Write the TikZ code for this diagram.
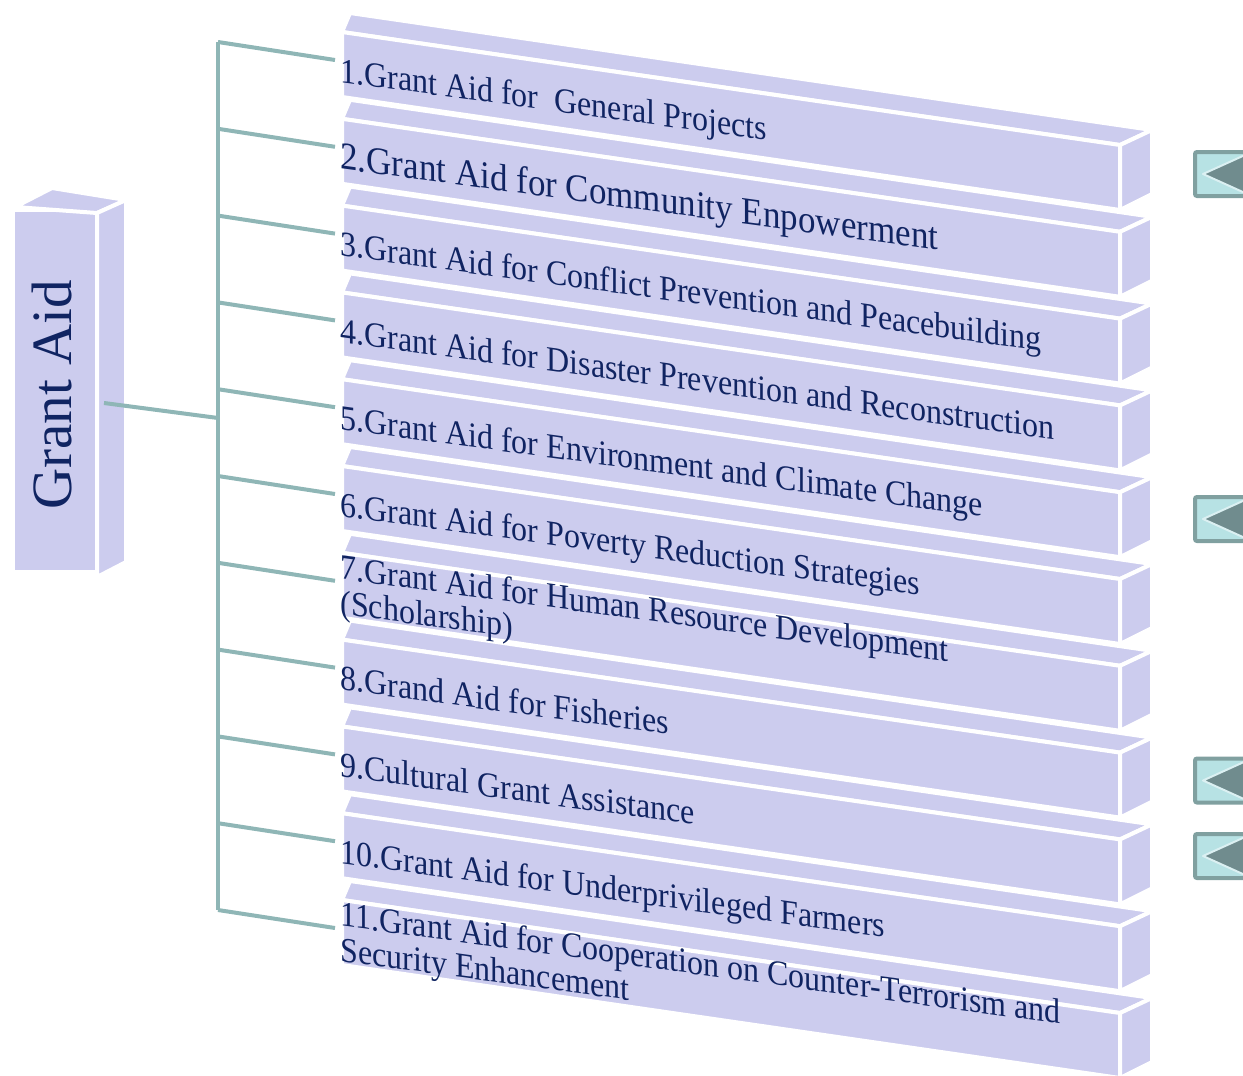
\documentclass[tikz,border=0pt]{standalone}
\usepackage{fontspec}
\setmainfont{Liberation Serif}
\usepackage{xcolor}
\definecolor{barfill} {RGB}{204,204,238}
\definecolor{inkblue} {RGB}{ 16, 36, 98}
\definecolor{linkteal}{RGB}{143,182,182}
\definecolor{btnfill} {RGB}{183,226,228}
\definecolor{btnedge} {RGB}{128,160,160}
\definecolor{btnmark} {RGB}{112,140,142}

\begin{document}
\begin{tikzpicture}[
    x=0.5pt, y=-0.5pt,
    face/.style={fill=barfill, draw=white, line width=2pt, line join=round},
    item/.style={anchor=base west, inner sep=0pt, align=left, yslant=-0.136, yscale=1.1, text=inkblue},
    link/.style={draw=linkteal, line width=2pt},
    button/.style={draw=btnedge, fill=btnfill, line width=2pt, rounded corners=1pt, inner sep=0pt},
    tipmark/.style={fill=btnmark, draw=btnfill!50!white, line width=1pt, line join=round}
]
    \useasboundingbox (0,0) rectangle (1243,1076);

    \foreach \i in {1,...,11}{
        \pgfmathsetmacro\ty{32+(\i-1)*86.8}
        \path[face] (342,\ty) -- (1120,\ty+113) -- (1152,\ty+98) -- (350,\ty-19) -- cycle;
        \path[face] (342,\ty) -- (1120,\ty+113) -- (1120,\ty+178) -- (342,\ty+65) -- cycle;
        \path[face] (1120,\ty+113) -- (1152,\ty+98) -- (1152,\ty+162) -- (1120,\ty+178) -- cycle;
    }

    \foreach \i/\fs/\by/\txt in {
        1/16/82/{1.Grant Aid for~ General Projects},
        2/17.5/168.8/{2.Grant Aid for Community Enpowerment},
        3/16/255.6/{3.Grant Aid for Conflict Prevention and Peacebuilding},
        4/16/342.4/{4.Grant Aid for Disaster Prevention and Reconstruction},
        5/16/429.2/{5.Grant Aid for Environment and Climate Change},
        6/16/516/{6.Grant Aid for Poverty Reduction Strategies},
        7/16/614/{7.Grant Aid for Human Resource Development\\(Scholarship)},
        8/16/689.6/{8.Grand Aid for Fisheries},
        9/16/776.4/{9.Cultural Grant Assistance},
        10/16/863.2/{10.Grant Aid for Underprivileged Farmers},
        11/16/961/{11.Grant Aid for Cooperation on Counter-Terrorism and\\Security Enhancement}}
        \node[item, font=\fontsize{\fs}{16}\selectfont] (t\i) at (340,\by) {\txt};

    \node[face, minimum width=42pt, minimum height=181pt, inner sep=0pt] (root) at (55,391) {};
    \path[face] (15,207) -- (97,213) -- (126,200) -- (52,188) -- cycle;
    \path[face] (97,213) -- (126,200) -- (126,562) -- (97,577) -- cycle;
    \node[rotate=90, text=inkblue, font=\fontsize{28.5}{30}\selectfont] (rootlabel) at (52,395) {Grant Aid};

    \foreach \i in {1,...,11}{
        \pgfmathsetmacro\by{42+(\i-1)*86.8}
        \coordinate (j\i) at (218,\by);
        \coordinate (e\i) at (335,\by+18);
        \draw[link] (j\i) -- (e\i);
    }
    \draw[link] (j1) -- (j11);
    \coordinate (hub) at (218,418);
    \draw[link] ([xshift=2.5pt,yshift=-6pt]root.east) -- (hub);

    \foreach \i/\by in {1/174, 2/519, 3/780.5, 4/856}{
        \node[button, minimum width=28pt, minimum height=22pt, anchor=west] (b\i) at (1193,\by) {};
        \path[tipmark] ([xshift=5pt]b\i.west) -- ++(21pt,9.5pt) -- ++(0,-19pt) -- cycle;
    }
\end{tikzpicture}
\end{document}
